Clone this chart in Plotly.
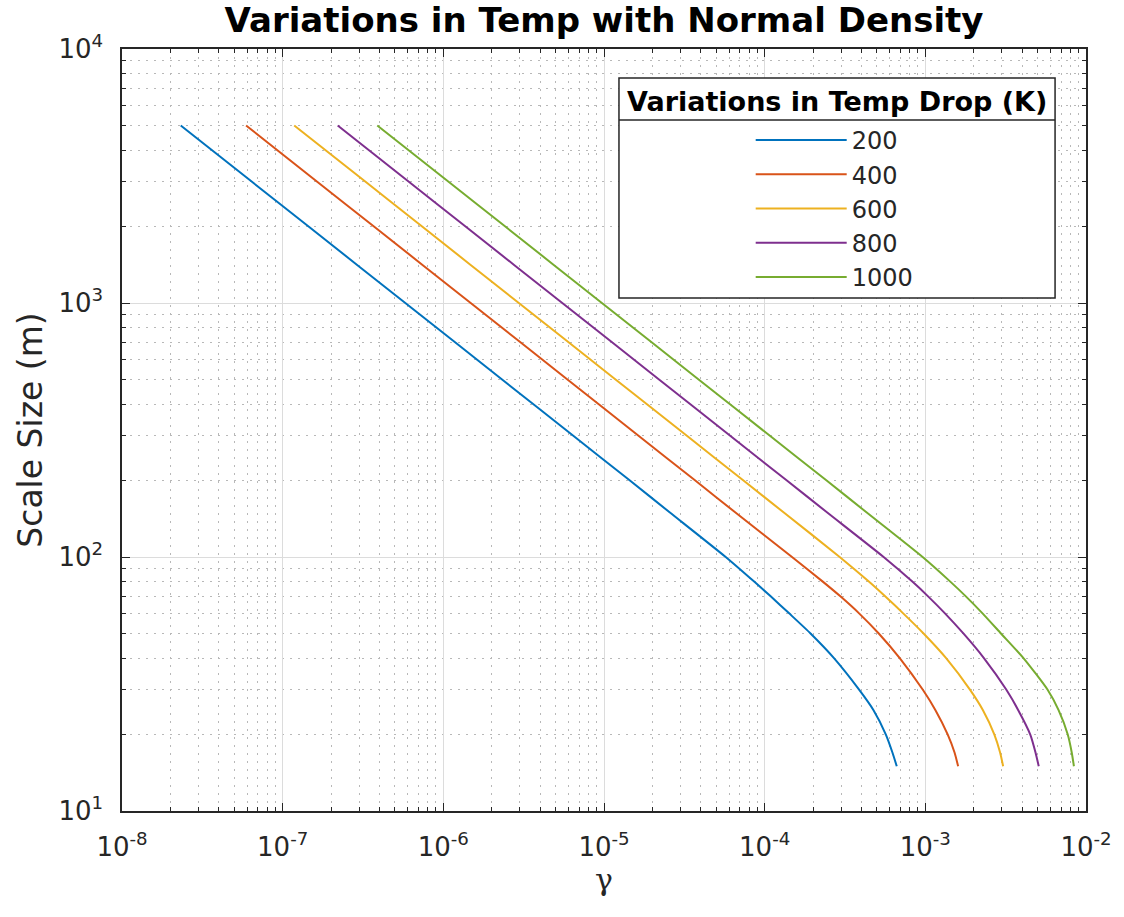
import plotly.graph_objects as go

# ---------------- data ----------------
scale_size = [5000, 3000, 2000, 1000, 500, 300, 200, 150, 100, 80, 70, 60, 50, 40, 30, 25, 20, 17, 15]
temp_drops = ["200", "400", "600", "800", "1000"]

gamma_200 = [2.32e-8, 6.44e-8, 1.45e-7, 5.8e-7, 2.32e-6, 6.44e-6, 1.45e-5, 2.56e-5, 5.72e-5, 8.6e-5,
             1.09e-4, 1.42e-4, 1.93e-4, 2.70e-4, 3.88e-4, 4.75e-4, 5.68e-4, 6.24e-4, 6.64e-4]
gamma_400 = [5.92e-8, 1.64e-7, 3.7e-7, 1.48e-6, 5.92e-6, 1.64e-5, 3.7e-5, 6.55e-5, 1.48e-4, 2.3e-4,
             2.96e-4, 3.87e-4, 5.13e-4, 6.93e-4, 9.65e-4, 1.154e-3, 1.379e-3, 1.52e-3, 1.60e-3]
gamma_600 = [1.18e-7, 3.28e-7, 7.38e-7, 2.95e-6, 1.18e-5, 3.28e-5, 7.38e-5, 1.31e-4, 2.93e-4, 4.45e-4,
             5.62e-4, 7.28e-4, 9.75e-4, 1.347e-3, 1.90e-3, 2.28e-3, 2.69e-3, 2.92e-3, 3.05e-3]
gamma_800 = [2.2e-7, 6.1e-7, 1.375e-6, 5.5e-6, 2.2e-5, 6.1e-5, 1.375e-4, 2.44e-4, 5.5e-4, 8.3e-4,
             1.04e-3, 1.325e-3, 1.725e-3, 2.315e-3, 3.195e-3, 3.78e-3, 4.5e-3, 4.85e-3, 5.08e-3]
gamma_1000 = [3.88e-7, 1.078e-6, 2.43e-6, 9.7e-6, 3.88e-5, 1.078e-4, 2.43e-4, 4.3e-4, 9.62e-4, 1.43e-3,
              1.787e-3, 2.27e-3, 2.955e-3, 4.08e-3, 5.77e-3, 6.74e-3, 7.70e-3, 8.15e-3, 8.41e-3]

x_tick_vals = [1e-8, 1e-7, 1e-6, 1e-5, 1e-4, 1e-3, 1e-2]
x_tick_text = ["10<sup>-8</sup>", "10<sup>-7</sup>", "10<sup>-6</sup>", "10<sup>-5</sup>",
               "10<sup>-4</sup>", "10<sup>-3</sup>", "10<sup>-2</sup>"]
y_tick_vals = [1e1, 1e2, 1e3, 1e4]
y_tick_text = ["10<sup>1</sup>", "10<sup>2</sup>", "10<sup>3</sup>", "10<sup>4</sup>"]

colors = ["#0072BD", "#D95319", "#EDB120", "#7E2F8E", "#77AC30"]
series = [gamma_200, gamma_400, gamma_600, gamma_800, gamma_1000]

# ---------------- figure ----------------
W, H = 1124, 917
ML, MR, MT, MB = 122, 36, 49, 106
PW, PH = W - ML - MR, H - MT - MB


def px_x(p):
    return (p - ML) / PW


def px_y(p):
    return (H - MB - p) / PH


fig = go.Figure()
for name, g, c in zip(temp_drops, series, colors):
    fig.add_trace(go.Scatter(x=g, y=scale_size, mode="lines", name=name,
                             line=dict(color=c, width=2, shape="spline", smoothing=0.6)))

FONT = "DejaVu Sans"
axis_common = dict(
    type="log", showline=True, linecolor="#262626", linewidth=1.5, mirror="ticks",
    ticks="inside", ticklen=8, tickwidth=1, tickcolor="#262626",
    showgrid=True, gridcolor="#dcdcdc", gridwidth=1, zeroline=False,
    tickfont=dict(family=FONT, size=26, color="#262626"),
    minor=dict(dtick="D1", ticks="inside", ticklen=4, tickcolor="#262626",
               showgrid=True, gridcolor="#b8b8b8", griddash="2px,6px", gridwidth=1),
)

fig.update_layout(
    width=W, height=H,
    margin=dict(l=ML, r=MR, t=MT, b=MB),
    paper_bgcolor="white", plot_bgcolor="white",
    font=dict(family=FONT, color="#262626"),
    title=dict(text="<b>Variations in Temp with Normal Density</b>",
               font=dict(family=FONT, size=34, color="black"),
               x=0.5, xref="paper", xanchor="center",
               y=1 - 20 / H, yref="container", yanchor="middle"),
    xaxis=dict(axis_common, range=[-8, -2], tickmode="array", tickvals=x_tick_vals,
               ticktext=x_tick_text, ticklabelstandoff=12,
               title=dict(text="γ", font=dict(family="DejaVu Serif", size=30, color="#262626"),
                          standoff=4)),
    yaxis=dict(axis_common, range=[1, 4], tickmode="array", tickvals=y_tick_vals,
               ticktext=y_tick_text, ticklabelstandoff=12,
               title=dict(text="Scale Size (m)", font=dict(family=FONT, size=33, color="#262626"),
                          standoff=6)),
    showlegend=True,
    legend=dict(x=px_x(752), y=px_y(118), xanchor="left", yanchor="top",
                bgcolor="rgba(0,0,0,0)", borderwidth=0, itemwidth=91,
                font=dict(family=FONT, size=24, color="#262626"),
                traceorder="normal"),
)

# legend frame, title and separator
fig.add_shape(type="rect", xref="paper", yref="paper",
              x0=px_x(620), x1=px_x(1057), y0=px_y(298), y1=px_y(78),
              line=dict(color="#262626", width=1.5), fillcolor="white", layer="above")
fig.add_shape(type="line", xref="paper", yref="paper",
              x0=px_x(620), x1=px_x(1057), y0=px_y(120), y1=px_y(120),
              line=dict(color="#262626", width=1.5), layer="above")
fig.add_annotation(text="<b>Variations in Temp Drop (K)</b>", xref="paper", yref="paper",
                   x=px_x(838.5), y=px_y(101), xanchor="center", yanchor="middle",
                   showarrow=False, font=dict(family=FONT, size=27, color="black"))

fig.write_html("out.html")
